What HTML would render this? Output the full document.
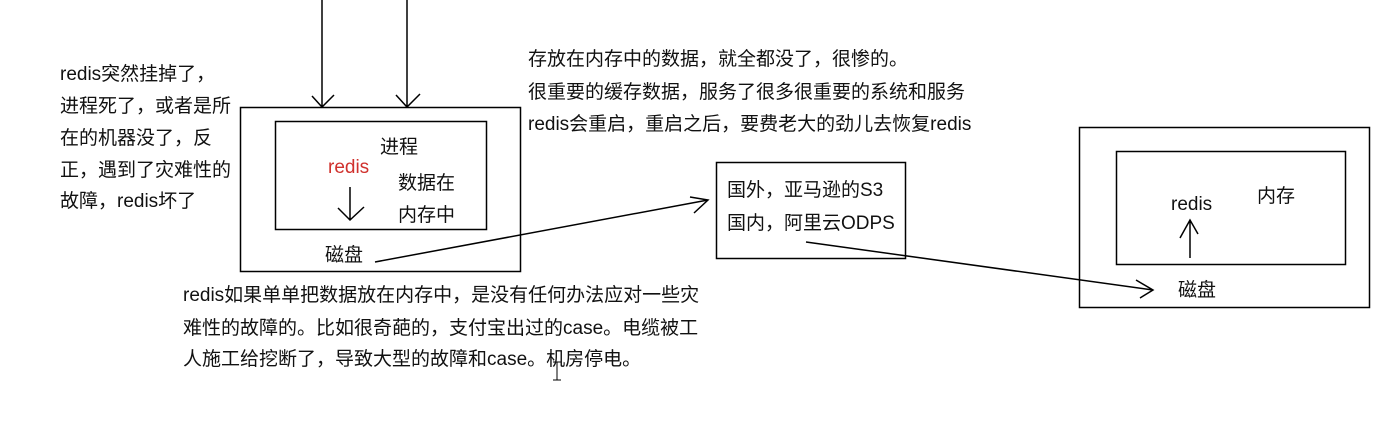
<!DOCTYPE html>
<html><head><meta charset="utf-8"><style>
html,body{margin:0;padding:0;background:#fff;width:1398px;height:431px;overflow:hidden}
svg text{font-family:"Liberation Sans","Noto Sans CJK SC",sans-serif;font-size:19px;fill:#111}
</style></head><body>
<svg width="1398" height="431" viewBox="0 0 1398 431" xmlns="http://www.w3.org/2000/svg">
<g fill="none" stroke="#000" stroke-width="1.5">
<rect x="240.5" y="107.5" width="280" height="164"/>
<rect x="275.5" y="121.5" width="211" height="108"/>
<path d="M322 0V107M312 96L322 107L334 95"/>
<path d="M407 0V107M396 95L407 107L420 94"/>
<path d="M350 187V220M338 208L350 220L364 207"/>
<path d="M375 262L708 200M690 197L708 200L694 213"/>
<rect x="716.5" y="162.5" width="189" height="96"/>
<path d="M806 242L1153 290M1136 280L1153 290L1140 298"/>
<rect x="1079.5" y="127.5" width="290" height="180"/>
<rect x="1116.5" y="151.5" width="229" height="113"/>
<path d="M1190 258V220M1180 238L1190 220L1198 234"/>
<path d="M557 362V380M553 362H561M553 380H561" stroke-width="1"/>
</g>
<text x="60" y="80">redis突然挂掉了，</text>
<text x="60" y="112">进程死了，或者是所</text>
<text x="60" y="144">在的机器没了，反</text>
<text x="60" y="176">正，遇到了灾难性的</text>
<text x="60" y="207">故障，redis坏了</text>
<text x="528" y="65">存放在内存中的数据，就全都没了，很惨的。</text>
<text x="528" y="98">很重要的缓存数据，服务了很多很重要的系统和服务</text>
<text x="528" y="130">redis会重启，重启之后，要费老大的劲儿去恢复redis</text>
<text x="328" y="173" style="fill:#d0312d">redis</text>
<text x="380" y="153">进程</text>
<text x="398" y="189">数据在</text>
<text x="398" y="221">内存中</text>
<text x="325" y="261">磁盘</text>
<text x="727" y="196">国外，亚马逊的S3</text>
<text x="727" y="229">国内，阿里云ODPS</text>
<text x="1171" y="210">redis</text>
<text x="1257" y="202">内存</text>
<text x="1178" y="296">磁盘</text>
<text x="183" y="301">redis如果单单把数据放在内存中，是没有任何办法应对一些灾</text>
<text x="183" y="334">难性的故障的。比如很奇葩的，支付宝出过的case。电缆被工</text>
<text x="183" y="365">人施工给挖断了，导致大型的故障和case。机房停电。</text>
</svg>
</body></html>
